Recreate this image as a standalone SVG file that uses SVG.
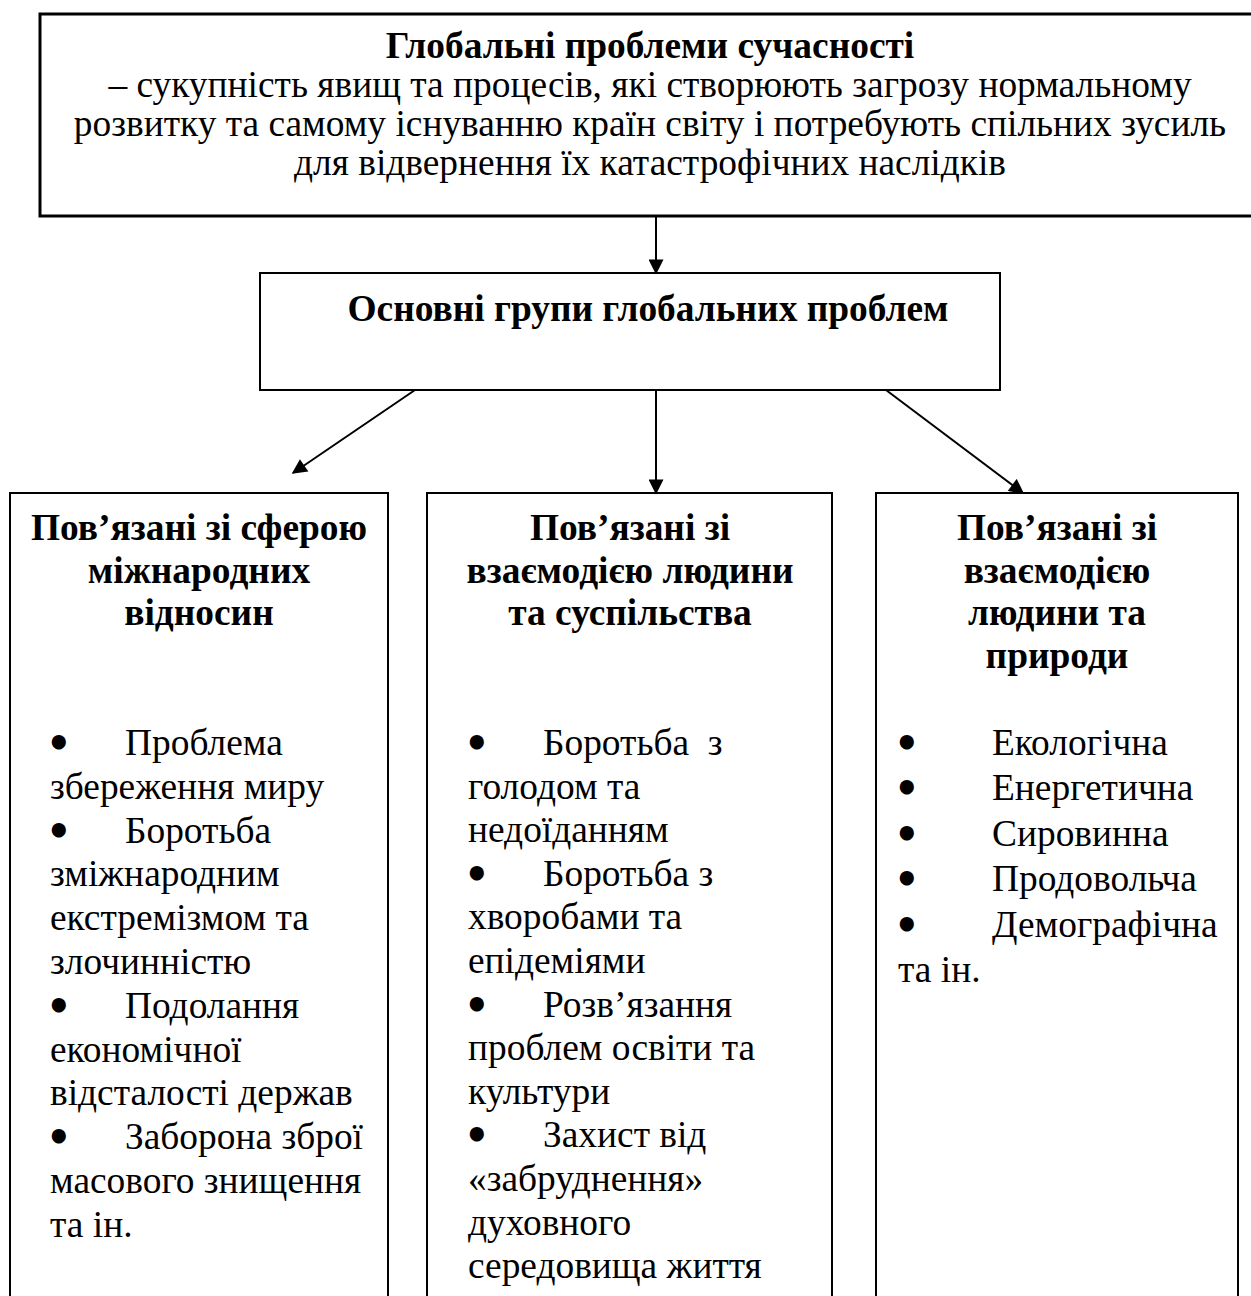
<svg xmlns="http://www.w3.org/2000/svg" width="1251" height="1296" viewBox="0 0 1251 1296">
<style>
.box{fill:#fff;stroke:#000;stroke-width:2}
.boxT{fill:#fff;stroke:#000;stroke-width:3}
.t{font-family:"Liberation Serif","Times New Roman",serif;fill:#000}
.top{font-size:37.4px}
.mid{font-size:37.4px;font-weight:bold}
.h{font-size:37.4px;font-weight:bold}
.body{font-size:37.4px}
.bul{font-family:"DejaVu Sans",sans-serif;font-weight:bold;font-size:40px}
.c{text-anchor:middle}
.conn{stroke:#000;stroke-width:2;fill:none}
</style>
<defs>
<marker id="arr" viewBox="0 0 10 10" refX="9" refY="5" markerWidth="16" markerHeight="15" markerUnits="userSpaceOnUse" orient="auto">
<path d="M0,0 L10,5 L0,10 z" fill="#000"/>
</marker>
</defs>
<rect width="1251" height="1296" fill="#fff"/>

<g id="node-top">
<rect class="boxT" x="40" y="14" width="1260" height="202"/>
<text class="t top c" x="650" y="58" font-weight="bold">Глобальні проблеми сучасності</text>
<text class="t top c" x="650" y="97">– сукупність явищ та процесів, які створюють загрозу нормальному</text>
<text class="t top c" x="650" y="136">розвитку та самому існуванню країн світу і потребують спільних зусиль</text>
<text class="t top c" x="650" y="175">для відвернення їх катастрофічних наслідків</text>
</g>

<g id="node-groups">
<rect class="box" x="260" y="273" width="740" height="117"/>
<text class="t mid c" x="648" y="321">Основні групи глобальних проблем</text>
</g>

<g id="node-international">
<rect class="box" x="10" y="493" width="378" height="900"/>
<text class="t h c" x="199" y="540">Пов’язані зі сферою</text>
<text class="t h c" x="199" y="582.5">міжнародних</text>
<text class="t h c" x="199" y="625">відносин</text>
<text class="t body" x="46" y="755"><tspan class="bul" dy="2">•</tspan><tspan x="125" y="755">Проблема</tspan></text>
<text class="t body" x="50" y="798.8">збереження миру</text>
<text class="t body" x="46" y="842.6"><tspan class="bul" dy="2">•</tspan><tspan x="125" y="842.6">Боротьба</tspan></text>
<text class="t body" x="50" y="886.4">зміжнародним</text>
<text class="t body" x="50" y="930.2">екстремізмом та</text>
<text class="t body" x="50" y="974">злочинністю</text>
<text class="t body" x="46" y="1017.8"><tspan class="bul" dy="2">•</tspan><tspan x="125" y="1017.8">Подолання</tspan></text>
<text class="t body" x="50" y="1061.6">економічної</text>
<text class="t body" x="50" y="1105.4">відсталості держав</text>
<text class="t body" x="46" y="1149.2"><tspan class="bul" dy="2">•</tspan><tspan x="125" y="1149.2">Заборона зброї</tspan></text>
<text class="t body" x="50" y="1193">масового знищення</text>
<text class="t body" x="50" y="1236.8">та ін.</text>
</g>

<g id="node-society">
<rect class="box" x="427" y="493" width="405" height="900"/>
<text class="t h c" x="630" y="540">Пов’язані зі</text>
<text class="t h c" x="630" y="582.5">взаємодією людини</text>
<text class="t h c" x="630" y="625">та суспільства</text>
<text class="t body" x="464" y="755"><tspan class="bul" dy="2">•</tspan><tspan x="543" y="755">Боротьба&#160; з</tspan></text>
<text class="t body" x="468" y="798.6">голодом та</text>
<text class="t body" x="468" y="842.2">недоїданням</text>
<text class="t body" x="464" y="885.8"><tspan class="bul" dy="2">•</tspan><tspan x="543" y="885.8">Боротьба з</tspan></text>
<text class="t body" x="468" y="929.4">хворобами та</text>
<text class="t body" x="468" y="973">епідеміями</text>
<text class="t body" x="464" y="1016.6"><tspan class="bul" dy="2">•</tspan><tspan x="543" y="1016.6">Розв’язання</tspan></text>
<text class="t body" x="468" y="1060.2">проблем освіти та</text>
<text class="t body" x="468" y="1103.8">культури</text>
<text class="t body" x="464" y="1147.4"><tspan class="bul" dy="2">•</tspan><tspan x="543" y="1147.4">Захист від</tspan></text>
<text class="t body" x="468" y="1191">«забруднення»</text>
<text class="t body" x="468" y="1234.6">духовного</text>
<text class="t body" x="468" y="1278.2">середовища життя</text>
</g>

<g id="node-nature">
<rect class="box" x="876" y="493" width="362" height="900"/>
<text class="t h c" x="1057" y="540">Пов’язані зі</text>
<text class="t h c" x="1057" y="582.5">взаємодією</text>
<text class="t h c" x="1057" y="625">людини та</text>
<text class="t h c" x="1057" y="667.5">природи</text>
<text class="t body" x="894" y="755"><tspan class="bul" dy="2">•</tspan><tspan x="992" y="755">Екологічна</tspan></text>
<text class="t body" x="894" y="800.4"><tspan class="bul" dy="2">•</tspan><tspan x="992" y="800.4">Енергетична</tspan></text>
<text class="t body" x="894" y="845.8"><tspan class="bul" dy="2">•</tspan><tspan x="992" y="845.8">Сировинна</tspan></text>
<text class="t body" x="894" y="891.2"><tspan class="bul" dy="2">•</tspan><tspan x="992" y="891.2">Продовольча</tspan></text>
<text class="t body" x="894" y="936.6"><tspan class="bul" dy="2">•</tspan><tspan x="992" y="936.6">Демографічна</tspan></text>
<text class="t body" x="898" y="982">та ін.</text>
</g>

<g id="connectors">
<line class="conn" x1="656" y1="216" x2="656" y2="273" marker-end="url(#arr)"/>
<line class="conn" x1="415" y1="390" x2="293" y2="473" marker-end="url(#arr)"/>
<line class="conn" x1="656" y1="390" x2="656" y2="493" marker-end="url(#arr)"/>
<line class="conn" x1="886" y1="390" x2="1023" y2="493" marker-end="url(#arr)"/>
</g>
</svg>
